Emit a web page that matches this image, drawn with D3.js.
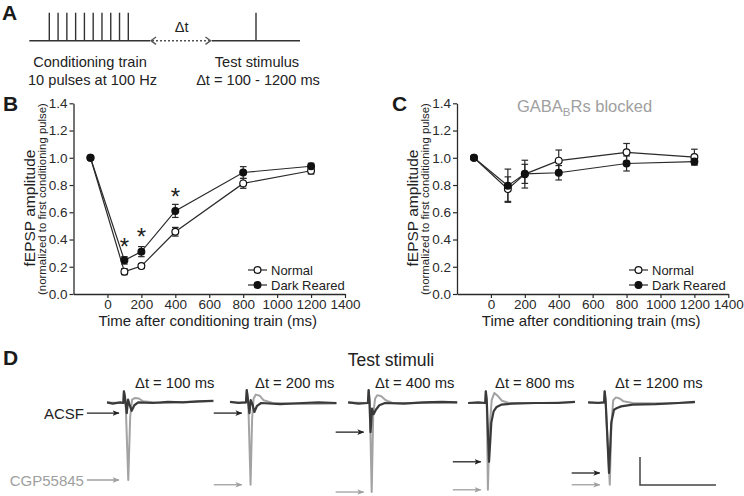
<!DOCTYPE html>
<html><head><meta charset="utf-8">
<script src="https://cdn.jsdelivr.net/npm/d3@7"></script>
<style>body{margin:0;background:#fff}svg{display:block}text{font-family:"Liberation Sans",Arial,Helvetica,sans-serif}</style>
</head><body><svg id="c" width="744" height="496"></svg>
<script>
// ---------------- DATA ----------------
const times = [-100, 100, 200, 400, 800, 1200];
const xTicks = [0, 200, 400, 600, 800, 1000, 1200, 1400];
const yTicks = [0, 0.2, 0.4, 0.6, 0.8, 1.0, 1.2, 1.4];
const seriesNames = ["Normal", "Dark Reared"];

const bNormalMean = [1.0, 0.164, 0.205, 0.457, 0.812, 0.905];
const bNormalErr  = [0, 0.022, 0.018, 0.032, 0.036, 0.024];
const bDarkMean   = [1.0, 0.247, 0.311, 0.61, 0.892, 0.938];
const bDarkErr    = [0, 0.027, 0.037, 0.048, 0.043, 0.022];
const bSigTimes   = [100, 200, 400];
const bSigLevel   = [0.383, 0.456, 0.749];

const cNormalMean = [1.0, 0.77, 0.88, 0.979, 1.04, 1.005];
const cNormalErr  = [0, 0.09, 0.102, 0.078, 0.065, 0.058];
const cDarkMean   = [1.0, 0.795, 0.882, 0.89, 0.958, 0.972];
const cDarkErr    = [0, 0.122, 0.07, 0.053, 0.055, 0.024];

const condPulses = [0, 10, 20, 30, 40, 50, 60, 70, 80, 90]; // ms, 100 Hz

const dtLabels = ["100", "200", "400", "800", "1200"];
// traces: [time ms, amplitude mV]
const acsfTraces = [
  [[0,0.01],[1.5,-0.01],[3.5,0.01],[4.3,0.0],[4.45,0.21],[4.7,0.12],[5.2,-0.18],[5.55,0.06],[5.9,-0.02],[6.5,-0.14],[7.2,-0.04],[8.2,0.01],[12,0.0],[16,0.02],[20,0.01],[24,0.03],[28,0.04]],
  [[0.8,0.02],[3,0.0],[5.0,0.01],[5.2,0.23],[5.45,0.1],[5.9,-0.18],[6.25,0.05],[6.7,-0.02],[7.2,-0.16],[7.9,-0.05],[9,0.0],[14,-0.02],[20,0.0],[24,0.01],[28.8,0.0]],
  [[0.3,0.01],[3,-0.01],[5.5,0.0],[5.7,0.23],[5.9,0.05],[6.2,-0.52],[6.6,-0.1],[7.0,-0.2],[7.6,-0.12],[8.5,-0.04],[10,0.0],[15,-0.01],[20,0.01],[25,0.02],[29,0.01]],
  [[0.3,0.0],[3,0.01],[4.8,0.0],[4.95,0.21],[5.2,0.05],[5.8,-1.05],[6.4,-0.35],[7.0,-0.15],[7.8,-0.07],[9,-0.03],[12,-0.01],[18,0.0],[24,0.0],[28.4,0.02]],
  [[0.3,0.01],[3,0.0],[4.5,0.01],[4.65,0.21],[4.9,0.05],[5.8,-1.25],[6.4,-0.35],[7.1,-0.12],[7.9,-0.09],[9,-0.06],[12,-0.03],[18,-0.02],[24,0.0],[28.4,0.02]]
];
const cgpTraces = [
  [[0,0.01],[4.3,0.0],[4.45,0.21],[4.9,0.02],[5.6,-1.375],[6.1,-0.25],[6.6,0.06],[7.4,0.09],[8.4,0.08],[9.5,0.03],[14,0.0],[20,0.02],[28,0.03]],
  [[0.8,0.02],[5.0,0.01],[5.2,0.23],[5.6,0.02],[6.2,-1.46],[6.6,-0.3],[7.0,0.08],[7.6,0.15],[8.6,0.13],[9.6,0.05],[12,0.0],[20,-0.02],[28.8,-0.01]],
  [[0.3,0.01],[5.5,0.0],[5.7,0.23],[6.0,0.0],[6.5,-1.59],[6.9,-0.2],[7.4,0.08],[8.0,0.14],[9.0,0.12],[10.2,0.05],[12,0.0],[20,0.0],[29,0.01]],
  [[0.3,0.0],[4.8,0.0],[4.95,0.21],[5.2,0.0],[5.5,-1.55],[5.9,-0.5],[6.5,0.05],[7.2,0.18],[8.2,0.12],[9.2,0.04],[11,0.0],[20,0.0],[28.4,0.02]],
  [[0.3,0.01],[4.5,0.01],[4.65,0.21],[4.9,0.0],[6.0,-1.46],[6.4,-0.4],[6.9,0.05],[7.6,0.1],[8.6,0.08],[9.6,0.03],[12,0.0],[20,-0.01],[28.4,0.01]]
];
const scaleBarMs = 20, scaleBarMv = 0.5;

// ---------------- DRAW ----------------
const INK = "#2a2a2a";
const svg = d3.select("#c");
svg.append("rect").attr("width", 744).attr("height", 496).attr("fill", "#fff");

const defs = svg.append("defs");
function arrowMarker(id, color) {
  defs.append("marker").attr("id", id).attr("viewBox", "0 0 10 10").attr("refX", 9).attr("refY", 5)
    .attr("markerWidth", 7).attr("markerHeight", 7).attr("markerUnits", "userSpaceOnUse").attr("orient", "auto")
    .append("path").attr("d", "M0,1 L10,5 L0,9 L2.5,5 Z").attr("fill", color);
}
arrowMarker("arrK", "#222");
arrowMarker("arrG", "#a0a0a0");

function label(t, x, y) {
  svg.append("text").attr("x", x).attr("y", y).attr("font-size", 21).attr("font-weight", "bold").attr("fill", "#1a1a1a").text(t);
}

// ---- Panel A ----
label("A", 2, 20);
const sx = d3.scaleLinear().domain([0, 90]).range([49.3, 128.3]);
const gA = svg.append("g").attr("stroke", "#333").attr("stroke-width", 1.4);
gA.append("line").attr("x1", 29.3).attr("x2", 150).attr("y1", 40.7).attr("y2", 40.7);
gA.selectAll(".p").data(condPulses).join("line").attr("x1", d => sx(d)).attr("x2", d => sx(d)).attr("y1", 12.7).attr("y2", 40.7);
gA.append("line").attr("x1", 211.7).attr("x2", 300).attr("y1", 40.7).attr("y2", 40.7);
gA.append("line").attr("x1", 256).attr("x2", 256).attr("y1", 12.7).attr("y2", 40.7);
const gD = svg.append("g").attr("stroke", "#555").attr("fill", "none").attr("stroke-width", 1.4);
gD.append("line").attr("x1", 152).attr("x2", 210).attr("y1", 40.7).attr("y2", 40.7).attr("stroke-dasharray", "2,2");
gD.append("path").attr("d", "M156,37 L151,40.7 L156,44.4");
gD.append("path").attr("d", "M205.5,37 L210.5,40.7 L205.5,44.4");
const tA = svg.append("g").attr("fill", "#222").attr("font-size", 14.6).attr("text-anchor", "middle");
tA.append("text").attr("x", 181.7).attr("y", 31.5).text("Δt");
tA.append("text").attr("x", 90).attr("y", 66.7).text("Conditioning train");
tA.append("text").attr("x", 92.5).attr("y", 85).text("10 pulses at 100 Hz");
tA.append("text").attr("x", 257).attr("y", 66.7).text("Test stimulus");
tA.append("text").attr("x", 258).attr("y", 85).text("Δt = 100 - 1200 ms");

// ---- Panels B & C ----
function drawChart(cfg) {
  const x = d3.scaleLinear().domain([-200, 1400]).range([cfg.x0, cfg.x1]);
  const y = d3.scaleLinear().domain([0, 1.4]).range([294, 103.3]);
  const g = svg.append("g");
  const gx = g.append("g").attr("transform", `translate(0,${y(0)})`)
    .call(d3.axisBottom(x).tickValues(xTicks).tickSize(4).tickSizeOuter(0).tickFormat(d3.format("d")));
  const gy = g.append("g").attr("transform", `translate(${x(-200)},0)`)
    .call(d3.axisLeft(y).tickValues(yTicks).tickSize(4).tickSizeOuter(0).tickFormat(d3.format(".1f")));
  [gx, gy].forEach(a => {
    a.select(".domain").attr("stroke", INK).attr("stroke-width", 1.3);
    a.selectAll(".tick line").attr("stroke", INK).attr("stroke-width", 1.2);
    a.selectAll(".tick text").attr("fill", INK).attr("font-size", 13.5).attr("font-family", null);
  });
  gx.selectAll(".tick text").attr("y", 5.8);
  gy.selectAll(".tick text").attr("x", -6);

  const xc = (cfg.x0 + cfg.x1) / 2;
  g.append("text").attr("x", xc - 1.5).attr("y", 326.3).attr("text-anchor", "middle").attr("font-size", 15).attr("fill", "#222")
    .text("Time after conditioning train (ms)");
  g.append("text").attr("transform", `translate(${cfg.x0 - 39},208) rotate(-90)`).attr("text-anchor", "middle")
    .attr("font-size", 15.5).attr("fill", "#222").text("fEPSP amplitude");
  g.append("text").attr("transform", `translate(${cfg.x0 - 28},199) rotate(-90)`).attr("text-anchor", "middle")
    .attr("font-size", 11.4).attr("fill", "#222").text("(normalized to first conditioning pulse)");

  const series = [
    { name: seriesNames[0], mean: cfg.nMean, err: cfg.nErr, fill: "#fff" },
    { name: seriesNames[1], mean: cfg.dMean, err: cfg.dErr, fill: "#111" }
  ];
  const line = d3.line().x((d, i) => x(times[i])).y(d => y(d));
  series.forEach(s => {
    g.append("path").datum(s.mean).attr("d", line).attr("fill", "none").attr("stroke", INK).attr("stroke-width", 1.2);
  });
  series.forEach(s => {
    const eg = g.append("g").attr("stroke", INK).attr("stroke-width", 1.2);
    s.mean.forEach((m, i) => {
      const e = s.err[i]; if (!e) return;
      const cx = x(times[i]);
      eg.append("line").attr("x1", cx).attr("x2", cx).attr("y1", y(m - e)).attr("y2", y(m + e));
      eg.append("line").attr("x1", cx - 3.3).attr("x2", cx + 3.3).attr("y1", y(m - e)).attr("y2", y(m - e));
      eg.append("line").attr("x1", cx - 3.3).attr("x2", cx + 3.3).attr("y1", y(m + e)).attr("y2", y(m + e));
    });
  });
  series.forEach(s => {
    g.selectAll(null).data(s.mean).join("circle").attr("cx", (d, i) => x(times[i])).attr("cy", d => y(d)).attr("r", 3.4)
      .attr("fill", s.fill).attr("stroke", "#111").attr("stroke-width", 1.2);
  });
  // legend
  series.forEach((s, k) => {
    const ly = 270 + k * 15;
    const lx = cfg.legX;
    g.append("line").attr("x1", lx).attr("x2", lx + 19).attr("y1", ly).attr("y2", ly).attr("stroke", INK).attr("stroke-width", 1.2);
    g.append("circle").attr("cx", lx + 9.5).attr("cy", ly).attr("r", 3.4).attr("fill", s.fill).attr("stroke", "#111").attr("stroke-width", 1.2);
    g.append("text").attr("x", lx + 23).attr("y", ly + 4.6).attr("font-size", 13).attr("fill", "#222").text(s.name);
  });
  if (cfg.sig) {
    cfg.sig.t.forEach((t, i) => {
      g.append("text").attr("x", x(t)).attr("y", y(cfg.sig.v[i]) + 13.5).attr("text-anchor", "middle")
        .attr("font-size", 24).attr("fill", "#222").text("*");
    });
  }
  return g;
}

label("B", 3, 111);
drawChart({ x0: 73.5, x1: 345, nMean: bNormalMean, nErr: bNormalErr, dMean: bDarkMean, dErr: bDarkErr, legX: 248,
  sig: { t: bSigTimes, v: bSigLevel } });
label("C", 392, 111);
drawChart({ x0: 457, x1: 728.3, nMean: cNormalMean, nErr: cNormalErr, dMean: cDarkMean, dErr: cDarkErr, legX: 629 });
const tt = svg.append("text").attr("x", 517).attr("y", 112).attr("font-size", 16.5).attr("fill", "#a0a0a0");
tt.append("tspan").text("GABA");
tt.append("tspan").attr("font-size", 11.5).attr("dy", 4).text("B");
tt.append("tspan").attr("dy", -4).text("Rs blocked");

// ---- Panel D ----
label("D", 3, 365);
svg.append("text").attr("x", 391).attr("y", 366).attr("text-anchor", "middle").attr("font-size", 17.5).attr("fill", "#222").text("Test stimuli");
const band = d3.scaleBand().domain(dtLabels).range([107, 707]);
const tx = d3.scaleLinear().domain([0, 20]).range([0, 76]);
const ty = d3.scaleLinear().domain([0, 0.5]).range([403, 375]);
const tline = d3.line().x(d => d[0]).y(d => ty(d[1]));

dtLabels.forEach((dt, i) => {
  const x0 = band(dt);
  const g = svg.append("g").attr("transform", `translate(${x0},0)`);
  g.append("text").attr("x", 28).attr("y", 388).attr("font-size", 14.8).attr("fill", "#222").text(`Δt = ${dt} ms`);
  const toPx = arr => arr.map(p => [tx(p[0]), p[1]]);
  g.append("path").attr("d", tline(toPx(cgpTraces[i]))).attr("fill", "none").attr("stroke", "#a3a3a3")
    .attr("stroke-width", 2).attr("stroke-linejoin", "round");
  g.append("path").attr("d", tline(toPx(acsfTraces[i]))).attr("fill", "none").attr("stroke", "#3a3a3a")
    .attr("stroke-width", 2.2).attr("stroke-linejoin", "round");
  // arrows at troughs
  const art = acsfTraces[i].reduce((a, b) => (b[1] > a[1] ? b : a));
  const endX = x0 + tx(art[0]) - 5;
  const len = i === 0 ? 32 : 28;
  const aMin = d3.min(acsfTraces[i], d => d[1]);
  const cMin = d3.min(cgpTraces[i], d => d[1]);
  svg.append("line").attr("x1", endX - len).attr("x2", endX).attr("y1", ty(aMin)).attr("y2", ty(aMin))
    .attr("stroke", "#222").attr("stroke-width", 1.3).attr("marker-end", "url(#arrK)");
  svg.append("line").attr("x1", endX - len).attr("x2", endX).attr("y1", ty(cMin)).attr("y2", ty(cMin))
    .attr("stroke", "#a0a0a0").attr("stroke-width", 1.3).attr("marker-end", "url(#arrG)");
  if (i === 0) {
    svg.append("text").attr("x", endX - len - 3).attr("y", ty(aMin) + 5.5).attr("text-anchor", "end")
      .attr("font-size", 15).attr("fill", "#222").text("ACSF");
    svg.append("text").attr("x", endX - len - 3).attr("y", ty(cMin) + 5.5).attr("text-anchor", "end")
      .attr("font-size", 15).attr("fill", "#a0a0a0").text("CGP55845");
  }
});
// scale bar
const sbX = 640, sbY = 485;
svg.append("path").attr("d", `M${sbX},${sbY - (ty(0) - ty(scaleBarMv))} L${sbX},${sbY} L${sbX + tx(scaleBarMs)},${sbY}`)
  .attr("fill", "none").attr("stroke", "#444").attr("stroke-width", 1.5);
</script></body></html>
